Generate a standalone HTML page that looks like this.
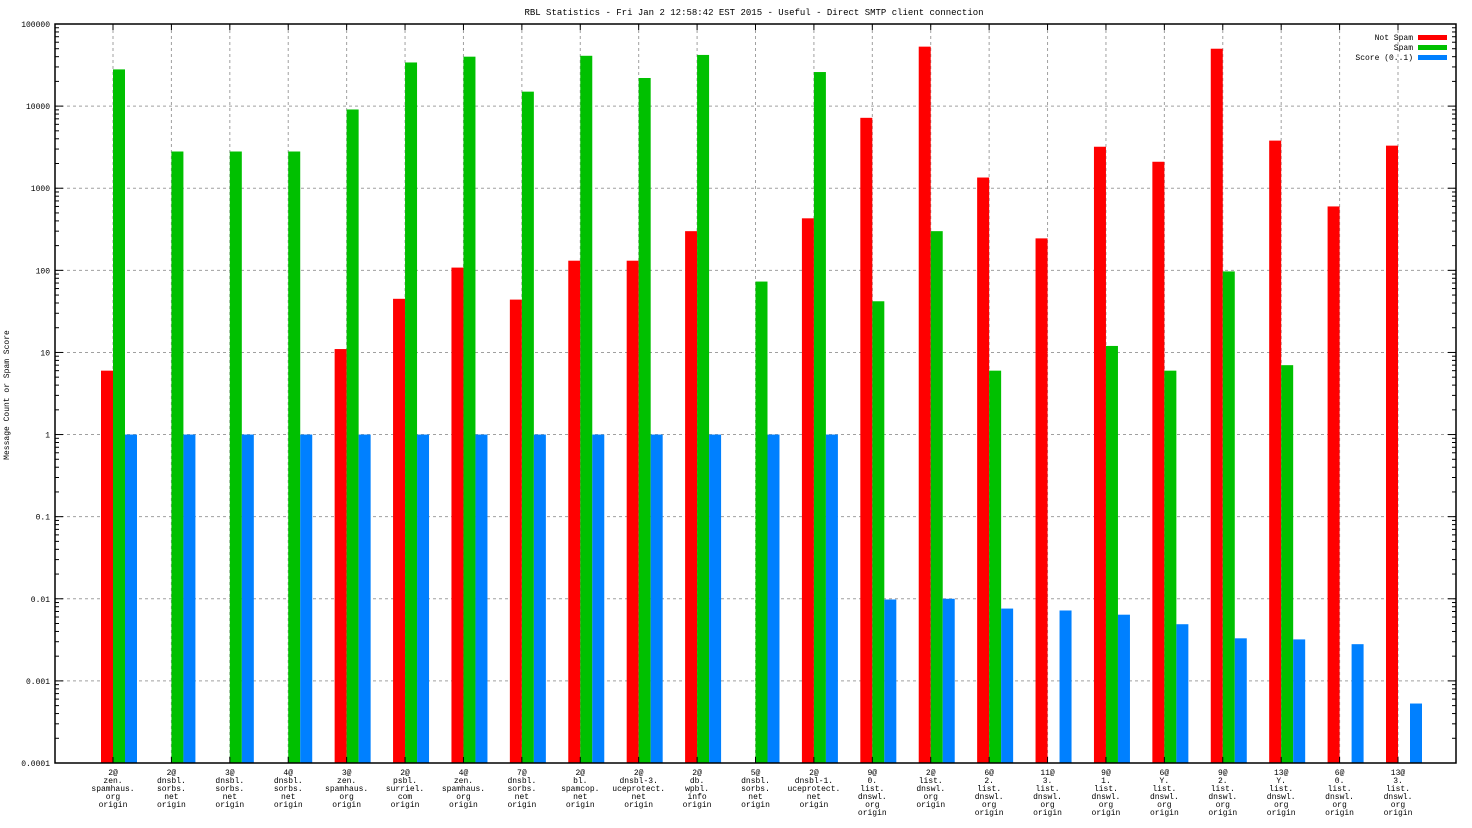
<!DOCTYPE html>
<html><head><meta charset="utf-8">
<style>
html,body{margin:0;padding:0;background:#fff;}
svg{display:block;font-family:"Liberation Mono","DejaVu Sans Mono",monospace;}
</style></head>
<body>
<svg id="chart" width="1472" height="828" viewBox="0 0 1472 828" xmlns="http://www.w3.org/2000/svg">
<rect width="1472" height="828" fill="#fff"/>
<text x="754" y="15" font-size="9" text-anchor="middle" fill="#000">RBL Statistics - Fri Jan  2 12:58:42 EST 2015 - Useful - Direct SMTP client connection</text>
<text transform="translate(9,395) rotate(-90)" font-size="8" text-anchor="middle" fill="#000">Message Count or Spam Score</text>
<g id="grid"></g>
<g id="bars"></g>
<g id="axes"></g>
<g id="xlabels"></g>
<g>
<text x="1413" y="40" font-size="8" text-anchor="end">Not Spam</text>
<rect x="1418" y="35" width="29" height="5" fill="#ff0000"/>
<text x="1413" y="50" font-size="8" text-anchor="end">Spam</text>
<rect x="1418" y="45" width="29" height="5" fill="#00c000"/>
<text x="1413" y="60" font-size="8" text-anchor="end">Score (0..1)</text>
<rect x="1418" y="55" width="29" height="5" fill="#0080ff"/>
</g>
</svg>
<script>
const categories = [
"2@|zen.|spamhaus.|org|origin","2@|dnsbl.|sorbs.|net|origin","3@|dnsbl.|sorbs.|net|origin","4@|dnsbl.|sorbs.|net|origin",
"3@|zen.|spamhaus.|org|origin","2@|psbl.|surriel.|com|origin","4@|zen.|spamhaus.|org|origin","7@|dnsbl.|sorbs.|net|origin",
"2@|bl.|spamcop.|net|origin","2@|dnsbl-3.|uceprotect.|net|origin","2@|db.|wpbl.|info|origin","5@|dnsbl.|sorbs.|net|origin",
"2@|dnsbl-1.|uceprotect.|net|origin","9@|0.|list.|dnswl.|org|origin","2@|list.|dnswl.|org|origin","6@|2.|list.|dnswl.|org|origin",
"11@|3.|list.|dnswl.|org|origin","9@|1.|list.|dnswl.|org|origin","6@|Y.|list.|dnswl.|org|origin","9@|2.|list.|dnswl.|org|origin",
"13@|Y.|list.|dnswl.|org|origin","6@|0.|list.|dnswl.|org|origin","13@|3.|list.|dnswl.|org|origin"];
const notSpam = [6,null,null,null,11,45,108,44,131,131,300,null,430,7200,53000,1350,245,3200,2100,50000,3800,600,3300];
const spam = [28000,2800,2800,2800,9100,34000,40000,15000,41000,22000,42000,73,26000,42,300,6,null,12,6,97,7,null,null];
const score = [1,1,1,1,1,1,1,1,1,1,1,1,1,0.0098,0.01,0.0076,0.0072,0.0064,0.0049,0.0033,0.0032,0.0028,0.00053];
const yTicks = [100000,10000,1000,100,10,1,0.1,0.01,0.001,0.0001];
const yTickLabels = ["100000","10000","1000","100","10","1","0.1","0.01","0.001","0.0001"];

const NS="http://www.w3.org/2000/svg";
const L=55,R=1456,T=24,B=763;
const yMin=-4,yMax=5;
function yScale(v){return B-(Math.log10(v)-yMin)/(yMax-yMin)*(B-T);}
const x0=113, step=(1398-113)/22, bw=12;
function xScale(i){return x0+i*step;}
function mk(tag,attrs,parent){const e=document.createElementNS(NS,tag);for(const k in attrs)e.setAttribute(k,attrs[k]);parent.appendChild(e);return e;}
const grid=document.getElementById('grid'),bars=document.getElementById('bars'),axes=document.getElementById('axes'),xl=document.getElementById('xlabels');

yTicks.forEach((v,i)=>{
  const y=yScale(v);
  if(i>0&&i<yTicks.length-1){
    const g=mk('line',{x1:L,x2:R,y1:y,y2:y,stroke:'#a0a0a0','stroke-dasharray':'3,3','stroke-width':1},grid);
    
    
  }
  const t=mk('text',{x:50,y:y+3,'font-size':8,'text-anchor':'end',fill:'#000'},axes);
  
  
  t.textContent=yTickLabels[i];
  mk('line',{x1:L,x2:L+8,y1:y,y2:y,stroke:'#000'},axes);
  mk('line',{x1:R,x2:R-8,y1:y,y2:y,stroke:'#000'},axes);
  if(i>0){for(let m=2;m<10;m++){const ym=yScale(v*m);mk('line',{x1:L,x2:L+4,y1:ym,y2:ym,stroke:'#000'},axes);mk('line',{x1:R,x2:R-4,y1:ym,y2:ym,stroke:'#000'},axes);}}
});
categories.forEach((c,i)=>{
  const x=xScale(i);
  const g=mk('line',{x1:x,x2:x,y1:T,y2:B,stroke:'#a0a0a0','stroke-dasharray':'3,3','stroke-width':1},grid);
  
  
  mk('line',{x1:x,x2:x,y1:T,y2:T+6,stroke:'#000'},axes);
  mk('line',{x1:x,x2:x,y1:B,y2:B-6,stroke:'#000'},axes);
  const t=mk('text',{x:x,y:775,'font-size':8,'text-anchor':'middle',fill:'#000'},xl);
  
  
  c.split('|').forEach((ln,j)=>{const s=mk('tspan',{x:x,dy:j?8:0},t);s.textContent=ln;});
  [[notSpam,'#ff0000',-bw,'bar-not-spam'],[spam,'#00c000',0,'bar-spam'],[score,'#0080ff',bw,'bar-score']].forEach(([arr,col,off,name])=>{
    const v=arr[i]; if(v==null) return;
    const y=yScale(v);
    const r=mk('rect',{x:x+off,y:y,width:bw,height:B-y,fill:col},bars);
    
    
  });
});
const fr=mk('rect',{x:L,y:T,width:R-L,height:B-T,fill:'none',stroke:'#000','stroke-width':1.5},axes);


</script>
</body></html>
